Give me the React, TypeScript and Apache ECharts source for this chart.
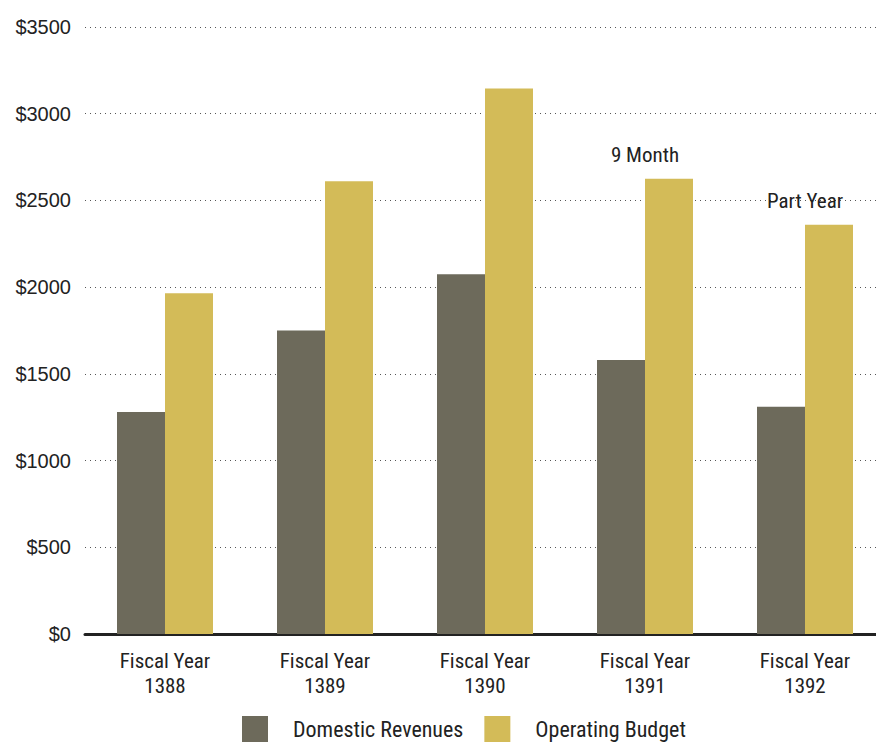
import React, { useEffect, useRef } from "react";
import * as echarts from "echarts";

const categories = ["Fiscal Year\n1388", "Fiscal Year\n1389", "Fiscal Year\n1390", "Fiscal Year\n1391", "Fiscal Year\n1392"];
const domesticRevenues = [1280, 1750, 2075, 1580, 1310];
const operatingBudget = [1965, 2610, 3145, 2625, 2360];
const barNotes = ["", "", "", "9 Month", "Part Year"];
const yTicks = { min: 0, max: 3500, interval: 500 };

const FONT = "'Liberation Sans Narrow', 'Roboto Condensed', Roboto, 'Liberation Sans', sans-serif";

export default function App() {
  const ref = useRef<HTMLDivElement>(null);
  useEffect(() => {
    if (!ref.current) return;
    const chart = echarts.init(ref.current, undefined, { renderer: "svg" });
    chart.setOption({
      animation: false,
      grid: { left: 85, top: 27, width: 800, height: 607, outerBoundsMode: "none", containLabel: false },
      legend: {
        left: 242,
        top: 716,
        padding: 0,
        itemWidth: 26,
        itemHeight: 26,
        itemGap: 21,
        icon: "rect",
        textStyle: { fontFamily: FONT, fontSize: 22, color: "#222", padding: [0, 0, 0, 20] },
        data: ["Domestic Revenues", "Operating Budget"],
      },
      xAxis: {
        type: "category",
        data: categories,
        axisLine: { lineStyle: { color: "#222", width: 3 } },
        axisTick: { show: false },
        axisLabel: { fontFamily: FONT, fontSize: 21, color: "#222", lineHeight: 25, margin: 14 },
      },
      yAxis: {
        type: "value",
        min: yTicks.min,
        max: yTicks.max,
        interval: yTicks.interval,
        axisLine: { show: false },
        axisTick: { show: false },
        axisLabel: {
          formatter: (v: number) => "$" + v,
          fontFamily: "'Liberation Sans', Arial, sans-serif",
          fontSize: 20,
          color: "#222",
          margin: 14,
        },
        splitLine: { lineStyle: { color: "#555", type: [1, 4], width: 1 } },
      },
      series: [
        {
          name: "Domestic Revenues",
          type: "bar",
          data: domesticRevenues,
          itemStyle: { color: "#6d6a5b" },
          barWidth: 48,
          barGap: "0%",
        },
        {
          name: "Operating Budget",
          type: "bar",
          data: operatingBudget.map((v, i) => ({
            value: v,
            label: barNotes[i]
              ? {
                  show: true,
                  position: "top",
                  formatter: barNotes[i],
                  offset: [-24, -8],
                  fontFamily: FONT,
                  fontSize: 21,
                  color: "#222",
                }
              : { show: false },
          })),
          itemStyle: { color: "#d3bb58" },
          barWidth: 48,
          barGap: "0%",
        },
      ],
    });
    return () => chart.dispose();
  }, []);
  return <div ref={ref} style={{ width: 876, height: 744, position: "absolute", left: 0, top: 0 }} />;
}
